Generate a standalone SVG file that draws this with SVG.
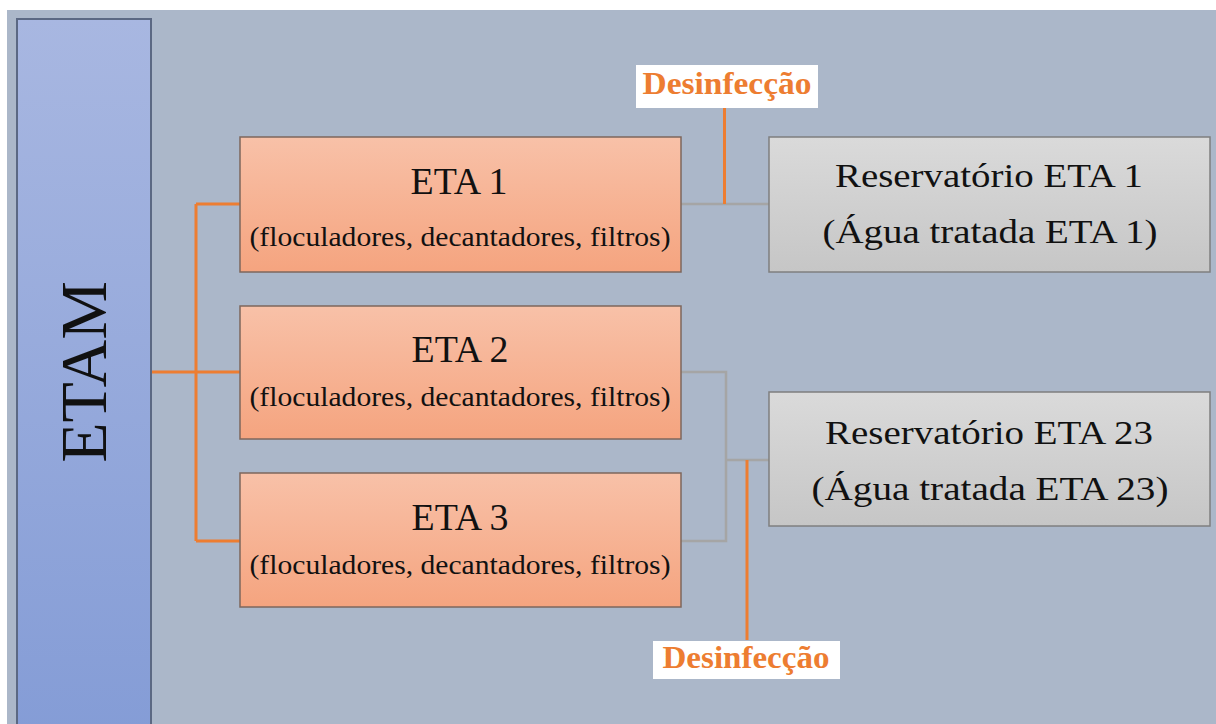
<svg xmlns="http://www.w3.org/2000/svg" width="1216" height="724" viewBox="0 0 1216 724">
<defs>
<linearGradient id="gBlue" x1="0" y1="0" x2="0" y2="1"><stop offset="0" stop-color="#A8B7E1"/><stop offset="1" stop-color="#849CD6"/></linearGradient>
<linearGradient id="gOr" x1="0" y1="0" x2="0" y2="1"><stop offset="0" stop-color="#F8C1A8"/><stop offset="1" stop-color="#F5A47F"/></linearGradient>
<linearGradient id="gGr" x1="0" y1="0" x2="0" y2="1"><stop offset="0" stop-color="#DADADA"/><stop offset="1" stop-color="#C6C6C6"/></linearGradient>
<style>
.eta{fill:url(#gOr);stroke:#7E675C;stroke-width:1.5}
.res{fill:url(#gGr);stroke:#7F7F7F;stroke-width:1.5}
.t{font-family:"Liberation Serif",serif;fill:#111;text-anchor:middle}
.big{font-size:37px}
.sm{font-size:28px}
.rb{font-size:34px}
.lab{fill:#fff}
.lt{font-family:"Liberation Serif",serif;font-weight:bold;font-size:31px;fill:#ED7D31;text-anchor:middle}
.o{stroke:#ED7D31;stroke-width:3;fill:none}
.g{stroke:#A5A5A5;stroke-width:2.5;fill:none}
</style>
</defs>
<rect x="0" y="0" width="1216" height="724" fill="#fff"/>
<rect x="7" y="10" width="1209" height="714" fill="#ABB7C9"/>
<g id="connectors">
<path class="o" d="M151 372H240M196 204V541M196 204H240M196 541H240"/>
<path class="g" d="M681 204H769"/>
<path class="o" d="M724.5 108V204"/>
<path class="g" d="M681 372H726V541H681M726 460H769"/>
<path class="o" d="M747 460V640"/>
</g>
<g id="etam">
<rect x="17" y="19" width="134" height="720" fill="url(#gBlue)" stroke="#5B6883" stroke-width="2"/>
<text class="t" transform="translate(106 372) rotate(-90)" font-size="66">ETAM</text>
</g>
<g id="eta1">
<rect class="eta" x="240" y="137" width="441" height="135"/>
<text class="t big" x="459" y="194" textLength="97" lengthAdjust="spacingAndGlyphs">ETA 1</text>
<text class="t sm" x="460" y="246" textLength="421" lengthAdjust="spacingAndGlyphs">(floculadores, decantadores, filtros)</text>
</g>
<g id="eta2">
<rect class="eta" x="240" y="306" width="441" height="133"/>
<text class="t big" x="460" y="362" textLength="97" lengthAdjust="spacingAndGlyphs">ETA 2</text>
<text class="t sm" x="460" y="406" textLength="421" lengthAdjust="spacingAndGlyphs">(floculadores, decantadores, filtros)</text>
</g>
<g id="eta3">
<rect class="eta" x="240" y="473" width="441" height="134"/>
<text class="t big" x="460" y="530" textLength="97" lengthAdjust="spacingAndGlyphs">ETA 3</text>
<text class="t sm" x="460" y="574" textLength="421" lengthAdjust="spacingAndGlyphs">(floculadores, decantadores, filtros)</text>
</g>
<g id="res1">
<rect class="res" x="769" y="137" width="441" height="135"/>
<text class="t rb" x="989" y="187" textLength="308" lengthAdjust="spacingAndGlyphs">Reservatório ETA 1</text>
<text class="t rb" x="990" y="243" textLength="335" lengthAdjust="spacingAndGlyphs">(Água tratada ETA 1)</text>
</g>
<g id="res23">
<rect class="res" x="769" y="392" width="441" height="134"/>
<text class="t rb" x="989" y="444" textLength="328" lengthAdjust="spacingAndGlyphs">Reservatório ETA 23</text>
<text class="t rb" x="990" y="500" textLength="357" lengthAdjust="spacingAndGlyphs">(Água tratada ETA 23)</text>
</g>
<g id="desinf1">
<rect class="lab" x="636" y="65" width="182" height="43"/>
<text class="lt" x="727" y="94" textLength="169" lengthAdjust="spacingAndGlyphs">Desinfecção</text>
</g>
<g id="desinf2">
<rect class="lab" x="653" y="641" width="187" height="38"/>
<text class="lt" x="746" y="668" textLength="167" lengthAdjust="spacingAndGlyphs">Desinfecção</text>
</g>
</svg>
